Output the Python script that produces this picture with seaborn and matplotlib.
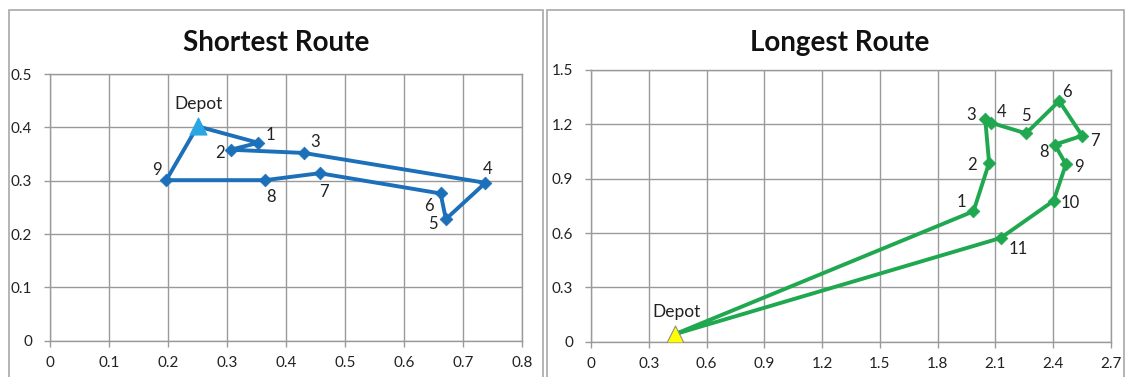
import matplotlib
matplotlib.use("Agg")
import matplotlib.pyplot as plt
from matplotlib.patches import Rectangle
import numpy as np
import pandas as pd
import seaborn as sns

# ---- Shortest route: depot and customer stops in visiting order ----
short_depot = (0.25, 0.402)
short_stops = ["1", "2", "3", "4", "5", "6", "7", "8", "9"]
short_x = [0.353, 0.306, 0.430, 0.738, 0.671, 0.662, 0.457, 0.365, 0.197]
short_y = [0.371, 0.358, 0.352, 0.296, 0.228, 0.276, 0.314, 0.301, 0.301]

# ---- Longest route ----
long_depot = (0.437, 0.042)
long_stops = ["1", "2", "3", "4", "5", "6", "7", "8", "9", "10", "11"]
long_x = [1.986, 2.067, 2.047, 2.076, 2.259, 2.431, 2.550, 2.408, 2.466, 2.402, 2.128]
long_y = [0.720, 0.987, 1.228, 1.209, 1.150, 1.329, 1.137, 1.088, 0.980, 0.778, 0.573]

short_xticks = [0, 0.1, 0.2, 0.3, 0.4, 0.5, 0.6, 0.7, 0.8]
short_yticks = [0, 0.1, 0.2, 0.3, 0.4, 0.5]
long_xticks = [0, 0.3, 0.6, 0.9, 1.2, 1.5, 1.8, 2.1, 2.4, 2.7]
long_yticks = [0, 0.3, 0.6, 0.9, 1.2, 1.5]

# label offsets (pixels) relative to each stop marker
short_offsets = [(12, 8), (-11, -3), (11, 11), (2, 14), (-13, -5),
                 (-12, -13), (4, -19), (6, -17), (-9, 10)]
long_offsets = [(-12, 9), (-17, -2), (-14, 4), (11, 11), (0, 17), (8, 9),
                (13, -5), (-11, -7), (13, -3), (17, -2), (17, -11)]

sns.set_style("white")
plt.rcParams["font.family"] = ["Lato", "DejaVu Sans"]

GRID = "#9a9a9a"
W, H = 1125, 377
fig = plt.figure(figsize=(W / 100, H / 100), dpi=100)

# chart-area frames
for x0, x1 in [(9, 543), (547, 1124)]:
    fig.add_artist(Rectangle((x0 / W, -0.1), (x1 - x0) / W, 1 - 10 / H + 0.1,
                             transform=fig.transFigure, fill=False,
                             edgecolor="#a8a8a8", lw=1.2))

ax1 = fig.add_axes([50 / W, 1 - 340.7 / H, 472 / W, 266.7 / H])
ax2 = fig.add_axes([591 / W, 1 - 341.7 / H, 520 / W, 271.7 / H])


def route_frame(depot, xs, ys):
    return pd.DataFrame({
        "x": [depot[0]] + list(xs) + [depot[0]],
        "y": [depot[1]] + list(ys) + [depot[1]],
        "order": np.arange(len(xs) + 2),
    })


def draw(ax, depot, names, xs, ys, offsets, color, depot_color, depot_edge,
         xticks, yticks, title, title_x):
    df = route_frame(depot, xs, ys)
    sns.lineplot(data=df, x="x", y="y", sort=False, estimator=None,
                 color=color, lw=2.8, ax=ax, zorder=3)
    stops = pd.DataFrame({"x": xs, "y": ys})
    sns.scatterplot(data=stops, x="x", y="y", marker="D", s=42, color=color,
                    edgecolor=color, linewidth=0.5, ax=ax, zorder=4)
    ax.scatter([depot[0]], [depot[1]], marker="^", s=150, color=depot_color,
               edgecolor=depot_edge, linewidth=0.8, zorder=5)
    ax.annotate("Depot", depot, xytext=(1, 22), textcoords="offset pixels",
                ha="center", va="center", fontsize=12.5, color="#222222")
    for n, x, y, (dx, dy) in zip(names, xs, ys, offsets):
        ax.annotate(n, (x, y), xytext=(dx, dy), textcoords="offset pixels",
                    ha="center", va="center", fontsize=12, color="#222222")

    ax.set_xlim(xticks[0], xticks[-1])
    ax.set_ylim(yticks[0], yticks[-1])
    ax.set_xticks(xticks)
    ax.set_yticks(yticks)
    ax.set_xticklabels([f"{t:g}" for t in xticks])
    ax.set_yticklabels([f"{t:g}" for t in yticks])
    ax.grid(True, color=GRID, lw=1)
    ax.set_axisbelow(True)
    for s in ax.spines.values():
        s.set_color(GRID)
        s.set_linewidth(1)
    ax.tick_params(axis="both", direction="out", length=4, width=1,
                   color=GRID, labelsize=11, labelcolor="#222222",
                   left=True, bottom=True)
    ax.tick_params(axis="y", pad=9)
    ax.tick_params(axis="x", pad=7)
    ax.set_xlabel("")
    ax.set_ylabel("")
    fig.text(title_x / W, 1 - 43 / H, title, ha="center", va="center",
             fontsize=20, fontweight="bold", color="#111111")


draw(ax1, short_depot, short_stops, short_x, short_y, short_offsets,
     "#1c6fb9", "#2aa6e3", "#2aa6e3", short_xticks, short_yticks,
     "Shortest Route", 276)
draw(ax2, long_depot, long_stops, long_x, long_y, long_offsets,
     "#1fa84f", "#ffff00", "#8c8c8c", long_xticks, long_yticks,
     "Longest Route", 840)

fig.savefig("out.png", dpi=100, facecolor="white")
